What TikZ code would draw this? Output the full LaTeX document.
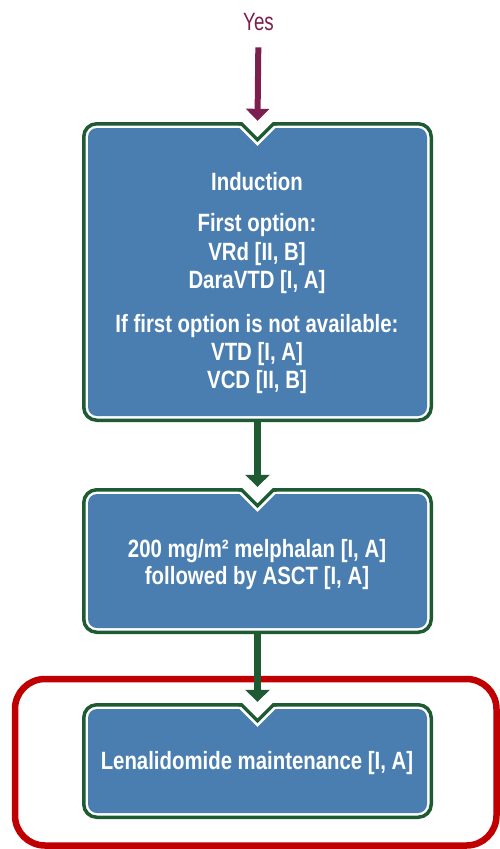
\documentclass[tikz,border=0pt]{standalone}
\usepackage{fontspec}
\usetikzlibrary{arrows.meta}
\newfontfamily\boxfont[FakeStretch=0.815,BoldFont={Liberation Sans Bold}]{Liberation Sans}
\newfontfamily\yesfont[FakeStretch=0.75]{Liberation Sans}
\definecolor{boxblue}{HTML}{4A7EB0}
\definecolor{bordergreen}{HTML}{1E5B33}
\definecolor{yesred}{HTML}{7B1F4E}
\definecolor{hlred}{HTML}{C00000}
\newcommand\NotchBox[3]{% name, top, bottom
  \pgfmathsetmacro\Ta{#2+1.75}\pgfmathsetmacro\Ba{#3-1.75}%
  \pgfmathsetmacro\Tb{#2+6}\pgfmathsetmacro\Bb{#3-6}%
  \pgfmathsetmacro\Mid{(#2+#3)/2}\pgfmathsetmacro\Hgt{#3-#2}%
  \node[inner sep=0pt, minimum width=351pt, minimum height=\Hgt pt] (#1) at (257.5,\Mid) {};
  \draw[bordergreen, line width=3.5, fill=white, rounded corners=13] (83.75,\Ta) rectangle (431.25,\Ba);
  \fill[boxblue, rounded corners=9] (88,\Tb) rectangle (427,\Bb);
  \fill[white] (257.5-18.3,\Tb-0.5) -- (257.5,\Ta+22) -- (257.5+18.3,\Tb-0.5) -- cycle;
  \fill[white] (257.5-16,\Ta-3) -- (257.5+16,\Ta-3) -- (257.5+16,\Ta) -- (257.5,\Ta+16) -- (257.5-16,\Ta) -- cycle;
  \draw[bordergreen, line width=3.5, line join=miter] (257.5-19,\Ta) -- (257.5-16,\Ta) -- (257.5,\Ta+16) -- (257.5+16,\Ta) -- (257.5+19,\Ta);
}
\tikzset{
  boxtext/.style={anchor=base, inner sep=0pt, text=white, font=\boxfont\bfseries\fontsize{25}{28}\selectfont},
  greenarrow/.style={bordergreen, line width=6.5, -{Triangle[width=24pt,length=12pt]}},
  yesarrow/.style={yesred, line width=6, -{Triangle[width=23pt,length=12pt]}},
}
\begin{document}
\begin{tikzpicture}[x=1pt,y=-1pt]
\useasboundingbox (0,0) rectangle (500,849);
% highlight frame
\draw[hlred, line width=6.5, rounded corners=30] (15,679) rectangle (496.5,845.5);
% boxes
\NotchBox{b1}{122}{422}
\NotchBox{b2}{488}{634}
\NotchBox{b3}{703}{819}
% texts
\node[anchor=base, inner sep=0pt, text=yesred, font=\yesfont\fontsize{25}{28}\selectfont] (yes) at (258.5,30) {Yes};
\node[boxtext] (t1) at (257,190) {Induction};
\node[boxtext] (t2) at (257,231) {First option:};
\node[boxtext] (t3) at (257,260) {VRd [II, B]};
\node[boxtext] (t4) at (257,288) {DaraVTD [I, A]};
\node[boxtext] (t5) at (257,332) {If first option is not available:};
\node[boxtext] (t6) at (257,360) {VTD [I, A]};
\node[boxtext] (t7) at (257,388) {VCD [II, B]};
\node[boxtext] (t8) at (257,557) {200 mg/m² melphalan [I, A]};
\node[boxtext] (t9) at (257,584) {followed by ASCT [I, A]};
\node[boxtext] (t10) at (257,769) {Lenalidomide maintenance [I, A]};
% connectors
\draw[yesarrow, shorten <=17pt, shorten >=1pt] (yes.south) -- (b1.north);
\draw[greenarrow, shorten >=1pt] (b1.south) -- (b2.north);
\draw[greenarrow, shorten >=1pt] (b2.south) -- (b3.north);
\end{tikzpicture}
\end{document}
